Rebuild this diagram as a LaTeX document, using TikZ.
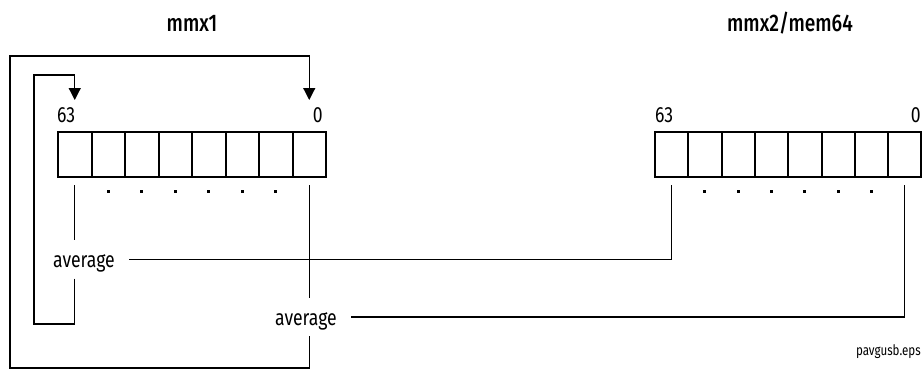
\documentclass[tikz,border=0pt]{standalone}
\usepackage{fontspec}
\setmainfont{Fira Sans}[FakeStretch=0.8]
\newfontfamily\titlefont{Fira Sans Medium}[FakeStretch=0.8]
\usetikzlibrary{arrows.meta,calc}
\begin{document}
\begin{tikzpicture}[x=1pt,y=-1pt,
  cell/.style={draw,line width=2pt,minimum width=33.5pt,minimum height=45pt,inner sep=0pt,anchor=north west},
  wire/.style={line width=1.2pt},
  arr/.style={wire,-{Triangle[width=12pt,length=12pt]}},
  lbl/.style={font=\fontsize{22}{22}\selectfont,inner sep=0pt},
  avg/.style={font=\fontsize{22}{22}\selectfont,text height=16pt,text depth=0pt,inner ysep=0pt,minimum height=38pt,inner xsep=14pt},
  ttl/.style={font=\titlefont\fontsize{24}{24}\selectfont,inner sep=0pt,anchor=base},
  dot/.style={fill,minimum size=3pt,inner sep=0pt},
]
\useasboundingbox (0,0) rectangle (922,381);
% titles
\node[ttl] (t1) at (192,31) {mmx1};
\node[ttl] (t2) at (790,31) {mmx2/mem64};
% left register
\foreach \i in {1,...,8} {
  \node[cell] (l\i) at ({57+33.5*(\i-1)},131) {};
}
% right register
\foreach \i in {1,...,8} {
  \node[cell,minimum width=33.3pt] (r\i) at ({654+33.3*(\i-1)},131) {};
}
% bit labels
\node[lbl,anchor=base west] (l63) at (57,122) {63};
\node[lbl,anchor=base east] (l0) at (323,122) {0};
\node[lbl,anchor=base west] (r63) at (655,122) {63};
\node[lbl,anchor=base east] (r0) at (921,122) {0};
% dots
\foreach \i in {2,...,7} {
  \node[dot] (ld\i) at ($(l\i.south)+(0,13)$) {};
  \node[dot] (rd\i) at ($(r\i.south)+(0,13)$) {};
}
% average labels
\node[avg] (a1) at (84,259.5) {average};
\node[avg] (a2) at (306,317) {average};
% vertical connectors from registers
\draw[wire] ([yshift=-7pt]l1.south) -- (a1.north -| l1.south);
\draw[wire] ([yshift=-7pt]l8.south) -- (a2.north -| l8.south);
\draw[wire] ([yshift=-7pt]r1.south) |- (a1.east);
\draw[wire] ([yshift=-7pt]r8.south) |- (a2.east);
% feedback loops
\coordinate (c1) at (34,324);
\coordinate (c2) at (34,75);
\coordinate (c3) at (10,368);
\coordinate (c4) at (10,56);
\draw[arr] (a1.south -| l1.south) |- (c1) -- (c2) -| ([yshift=31pt]l1.north);
\draw[arr] (a2.south -| l8.south) |- (c3) -- (c4) -| ([yshift=31pt]l8.north);
% file name
\node[font=\fontsize{14.5}{14.5}\selectfont,anchor=base east,inner sep=0pt] (fn) at (921,355) {pavgusb.eps};
\end{tikzpicture}
\end{document}
